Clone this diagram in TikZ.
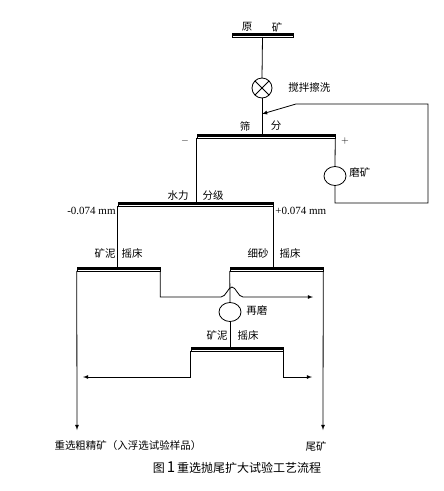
\documentclass[tikz,border=0pt]{standalone}
\usepackage{fontspec}
\setmainfont{Liberation Serif}
\newfontfamily\cjk{Noto Sans CJK SC}
\usetikzlibrary{positioning,shapes.geometric}

\begin{document}
\begin{tikzpicture}[x=1pt,y=-1pt,line width=.8pt,line cap=round,
  flow/.style={-latex},
  bar/.style={rectangle,draw,line width=.5pt,inner sep=0pt,minimum height=4pt,
    path picture={\fill (path picture bounding box.north west)
      rectangle ([yshift=-2.6pt]path picture bounding box.north east);}},
  unit/.style={draw,ellipse,minimum width=22pt,minimum height=19pt,inner sep=0pt},
  tag/.style={font=\cjk\fontsize{10.5}{12}\selectfont,inner sep=1pt}]
  \useasboundingbox (0,0) rectangle (444,491);
  % bars: feed, screen, classifier, tables
  \node[bar,minimum width=61pt] (feed) at (262.5,35) {};
  \node[bar,minimum width=138pt] (screen) at (266,136) {};
  \node[bar,minimum width=155pt] (hydro) at (195.5,204) {};
  \node[bar,minimum width=83pt] (slimetab) at (118.5,269) {};
  \node[bar,minimum width=93pt] (sandtab) at (276.5,269) {};
  \node[bar,minimum width=92pt] (cleantab) at (237,349) {};
  % machines
  \node[draw,circle,minimum size=20pt,inner sep=0pt,
    path picture={\draw (path picture bounding box.north west) -- (path picture bounding box.south east)
      (path picture bounding box.north east) -- (path picture bounding box.south west);}] (scrub) at (262,88) {};
  \node[unit] (grind) at (335,176) {};
  \node[unit] (regrind) at (230,312) {};
  % labels on the bars
  \foreach \x/\y/\txt [count=\i] in {247/27/原,277/27/矿,245/126/筛,276/126/分,
    178/196/水力,213/196/分级,105/253/矿泥,132/253/摇床,258/253/细砂,290/253/摇床,
    217/335/矿泥,248/335/摇床}
    \node[tag] (lab\i) at (\x,\y) {\txt};
  \node[tag,anchor=west] (scrubtext) at (287,88) {搅拌擦洗};
  \node[tag,anchor=west] (grindtext) at (348,172) {磨矿};
  \node[tag,anchor=west] (regrindtext) at (245,311) {再磨};
  \node (minus) at (185,141) {$-$};
  \node (plus) at (345,141) {$+$};
  \node[anchor=east,font=\fontsize{11}{13}\selectfont,inner sep=1pt] (fine) at (117,211) {-0.074 mm};
  \node[anchor=west,font=\fontsize{11}{13}\selectfont,inner sep=1pt] (coarse) at (274,211) {+0.074 mm};
  \node[tag] (concname) at (128,446) {重选粗精矿（入浮选试验样品）};
  \node[tag] (tailname) at (316,446) {尾矿};
  \node[font=\cjk\fontsize{12}{14}\selectfont] (caption) at (237,468)
    {图\,{\fontsize{15}{15}\selectfont 1}\,重选抛尾扩大试验工艺流程};
  % free ends
  \coordinate (loopbot) at (428,203);
  \coordinate (looptop) at (296,104);
  \coordinate (feedin) at (262,114);
  \coordinate (conc) at (77,430);
  \coordinate (tail) at (323,430);
  \coordinate (hopin) at (221,297);
  \coordinate (hopout) at (243,297);
  \coordinate (midout) at (313,297);
  \coordinate (cleanconc) at (83,377);
  \coordinate (cleantail) at (312,377);
  % flows
  \draw (feed.south) -- (scrub.north);
  \draw (scrub.south) -- (scrub.south |- screen.north);
  \draw (screen.south east) -- (grind.north);
  \draw[flow] (grind.south) |- (loopbot) |- (looptop) -- (feedin);
  \draw (screen.south west) -- (screen.south west |- hydro.north);
  \draw (hydro.south west) -- (hydro.south west |- slimetab.north);
  \draw (hydro.south east) -- (hydro.south east |- sandtab.north);
  \draw[flow] (slimetab.south west) -- (conc);
  \draw[flow] (slimetab.south east) |- (hopin)
    .. controls +(5,0) and +(-4,0) .. ++(11,-10)
    .. controls +(4,0) and +(-5,0) .. (hopout) -- (midout);
  \draw (sandtab.south west) -- (regrind.north);
  \draw[flow] (sandtab.south east) -- (tail);
  \draw (regrind.south) -- (regrind.south |- cleantab.north);
  \draw[flow] (cleantab.south west) |- (cleanconc);
  \draw[flow] (cleantab.south east) |- (cleantail);
\end{tikzpicture}
\end{document}
